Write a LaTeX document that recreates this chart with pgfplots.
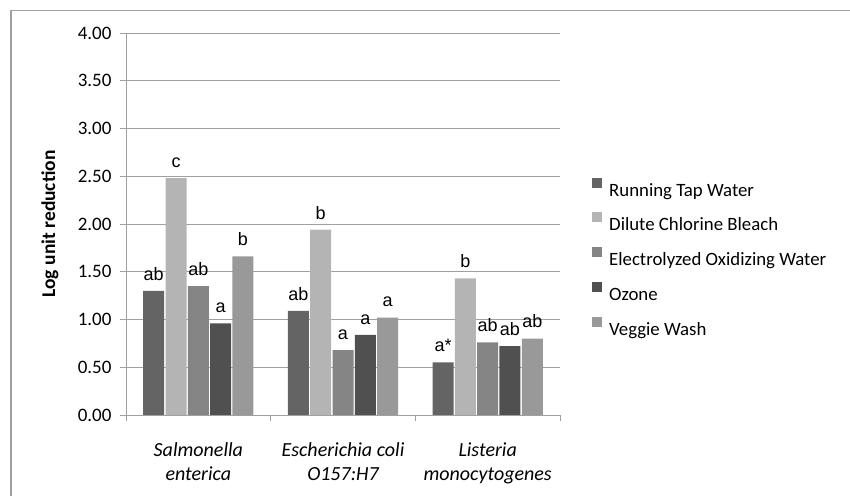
\documentclass[border=0pt]{standalone}
\usepackage{pgfplots}
\pgfplotsset{compat=1.18}
\usepackage{fontspec}
\setmainfont{Carlito}
\newfontfamily\arialfont{Liberation Sans}

\definecolor{tapc}{HTML}{646464}
\definecolor{bleachc}{HTML}{B4B4B4}
\definecolor{eowc}{HTML}{858585}
\definecolor{ozonec}{HTML}{505050}
\definecolor{veggiec}{HTML}{999999}
\definecolor{linec}{HTML}{A0A0A0}

\begin{document}
\begin{tikzpicture}
\useasboundingbox (0,0) rectangle (850bp,496bp);
% outer chart frame (right and bottom edges lie outside the picture)
\draw[color=linec, line width=1.2bp] (11bp,-5bp) -- (11bp,485.5bp) -- (860bp,485.5bp);

\begin{axis}[
    at={(126bp,81bp)}, anchor=south west,
    scale only axis,
    width=434bp, height=382bp,
    ybar=1.3bp, bar width=21bp,
    xmin=-0.5, xmax=2.5,
    ymin=0, ymax=4,
    ytick={0,0.5,...,4},
    yticklabel style={/pgf/number format/fixed, /pgf/number format/fixed zerofill,
        /pgf/number format/precision=2, xshift=-5bp},
    /pgf/number format/assume math mode=true,
    ticklabel style={font=\fontsize{19bp}{22bp}\selectfont},
    ymajorgrids,
    grid style={color=linec, line width=0.9bp},
    axis line style={color=linec, line width=0.9bp},
    axis x line*=bottom, axis y line*=left,
    tick align=outside,
    major tick length=6bp,
    ytick style={color=linec, line width=0.9bp},
    xtick={0,1,2},
    xtick style={draw=none},
    xticklabels={{Salmonella\\enterica},{Escherichia coli\\O157:H7},{Listeria\\monocytogenes}},
    xticklabel style={align=center, font=\fontsize{20bp}{24bp}\selectfont\itshape, yshift=-18bp},
    extra x ticks={-0.5,0.5,1.5,2.5},
    extra x tick labels={},
    extra x tick style={xtick style={draw=linec, line width=0.9bp}, major tick length=6bp, grid=none},
    ylabel={\bfseries Log unit reduction},
    ylabel style={font=\fontsize{19.5bp}{22bp}\selectfont,
        at={(axis description cs:0,0.5)}, anchor=center, yshift=76bp},
    point meta=explicit symbolic,
    nodes near coords,
    every node near coord/.append style={font=\arialfont\fontsize{18bp}{20bp}\selectfont,
        color=black, inner sep=0bp, anchor=south, yshift=10.5bp, text depth=0bp},
    legend style={draw=none, fill=none, at={(axis description cs:1,0.41)}, anchor=west,
        xshift=32bp, row sep=12.3bp, column sep=7bp, inner sep=0bp,
        nodes={inner sep=0bp, text height=14bp, text depth=4bp},
        font=\fontsize{18.8bp}{22bp}\selectfont},
    legend cell align=left,
    legend image code/.code={\fill[#1] (0bp,3.5bp) rectangle (10bp,13.5bp);},
]
\addplot[fill=tapc, draw=none] coordinates {(0,1.30) [ab] (1,1.09) [ab] (2,0.55) [a*]};
\addplot[fill=bleachc, draw=none] coordinates {(0,2.48) [c] (1,1.94) [b] (2,1.43) [b]};
\addplot[fill=eowc, draw=none] coordinates {(0,1.35) [ab] (1,0.68) [a] (2,0.76) [ab]};
\addplot[fill=ozonec, draw=none] coordinates {(0,0.96) [a] (1,0.84) [a] (2,0.72) [ab]};
\addplot[fill=veggiec, draw=none] coordinates {(0,1.66) [b] (1,1.02) [a] (2,0.80) [ab]};
\legend{Running Tap Water, Dilute Chlorine Bleach, Electrolyzed Oxidizing Water, Ozone, Veggie Wash}
\end{axis}
\end{tikzpicture}
\end{document}
